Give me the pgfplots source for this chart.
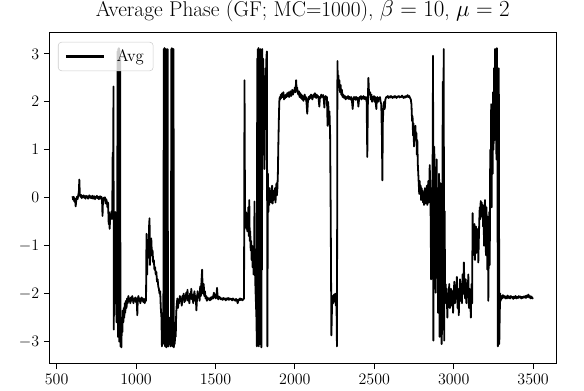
\documentclass[border=0pt]{standalone}
\usepackage{pgfplots}
\pgfplotsset{compat=1.18}

\newcommand{\tickfont}{\fontsize{12.5}{14}\selectfont}

\begin{document}
\begin{tikzpicture}
\useasboundingbox (-37.1pt,-20.6pt) rectangle (400.9pt,272.6pt);
\begin{axis}[
  at={(0pt,0pt)}, anchor=south west,
  scale only axis,
  width=380pt, height=248.6pt,
  xmin=455, xmax=3645,
  ymin=-3.456, ymax=3.456,
  xtick={500,1000,...,3500},
  ytick={-3,-2,-1,0,1,2,3},
  scaled ticks=false,
  xticklabel style={/pgf/number format/1000 sep={}},
  tick align=outside,
  tick pos=left,
  major tick length=4.2pt,
  tick style={black, line width=0.6pt},
  axis line style={line width=0.6pt},
  ticklabel style={font=\tickfont},
  title={Average Phase (GF; MC=1000), $\beta=10$, $\mu=2$},
  title style={at={(0.5,1)}, anchor=base, yshift=5.3pt, font=\fontsize{16}{19}\selectfont},
  legend style={
    at={(0.0168,0.970)}, anchor=north west,
    draw=black!20, rounded corners=2.5pt,
    fill=white, fill opacity=0.8, text opacity=1,
    font=\tickfont, inner xsep=5pt, inner ysep=3.5pt
  },
  % longer sample line, with extra room before the text
  legend image code/.code={
    \draw[#1, line width=1.6pt] (0pt,0pt) -- (28.5pt,0pt);
    \path[draw=none, fill=none] (0pt,0pt) -- (36pt,0pt);
  },
]
\addplot[black, line width=1.35pt, line join=round, mark=none] coordinates {
(600,0.03)(604,-0.04)(608,0.02)(612,-0.08)(616,-0.02)(620,-0.18)(624,-0.05)(628,0.02)(632,-0.03)(636,0.05)
(640,0.12)(643,0.38)(646,0.08)(650,0.02)(654,0.06)(658,-0.01)(662,0.04)(666,0.01)(670,0.05)(674,0.0)
(678,0.03)(682,-0.02)(686,0.04)(690,0.01)(694,0.03)(698,-0.02)(702,0.02)(706,0.05)(710,0.0)(714,0.03)
(718,-0.01)(722,0.02)(726,0.04)(730,-0.02)(734,0.01)(738,0.03)(742,-0.03)(746,0.02)(750,0.0)(754,0.04)
(758,-0.01)(762,0.02)(766,-0.03)(770,0.01)(774,0.03)(778,-0.02)(782,0.02)(786,-0.05)(789,-0.38)(792,-0.06)
(796,0.0)(800,-0.04)(804,0.01)(808,-0.12)(812,-0.03)(816,-0.08)(820,-0.2)(824,-0.1)(828,-0.55)(831,-0.3)
(834,-0.65)(838,-0.35)(842,-0.45)(846,-0.28)(850,-0.4)(853,0.94)(855,-0.45)(858,2.32)(860,-2.75)(863,-0.4)
(866,-0.55)(869,-0.3)(872,-0.8)(875,-2.3)(878,-2.6)(881,-1.5)(884,3.05)(886,-2.9)(888,3.1)(890,2.2)
(892,3.12)(894,-3.0)(896,3.08)(898,-2.5)(900,2.9)(902,-3.1)(905,-2.7)(908,-3.12)(911,-2.5)(914,-2.8)
(917,-2.35)(920,-2.6)(923,-2.3)(926,-2.5)(929,-2.2)(932,-2.4)(936,-2.15)(940,-2.3)(944,-2.1)(948,-2.2)
(952,-2.05)(956,-2.15)(960,-2.1)(964,-2.2)(968,-2.08)(972,-2.15)(976,-2.05)(980,-2.12)(984,-2.2)(988,-2.1)
(992,-2.15)(996,-2.08)(1000,-2.18)(1004,-2.1)(1008,-2.45)(1011,-2.12)(1015,-2.05)(1019,-2.15)(1023,-2.1)(1027,-2.2)
(1031,-2.12)(1035,-2.08)(1039,-2.15)(1043,-2.1)(1047,-2.18)(1051,-2.12)(1055,-2.2)(1059,-2.1)(1063,-2.15)(1066,-0.75)
(1070,-1.6)(1074,-1.0)(1078,-1.25)(1082,-0.6)(1085,-0.43)(1088,-1.4)(1092,-0.9)(1096,-0.85)(1100,-1.2)(1104,-1.1)
(1108,-1.35)(1112,-1.3)(1116,-1.5)(1120,-1.45)(1124,-1.6)(1128,-1.55)(1132,-1.75)(1136,-1.7)(1140,-1.85)(1144,-1.9)
(1148,-2.0)(1152,-1.95)(1156,-2.3)(1160,-2.5)(1163,-3.1)(1166,-2.8)(1169,-3.05)(1172,-2.6)
(1175,3.1)(1177,-3.0)(1179,3.12)(1181,2.8)(1183,-3.1)(1185,3.05)(1187,-2.7)(1189,3.1)(1191,-3.12)(1193,-2.8)
(1195,3.08)(1197,-3.0)(1199,3.1)(1201,-2.6)(1203,-3.1)(1206,-2.7)(1209,-3.05)(1212,-2.5)(1215,-2.9)(1218,-3.1)
(1220,-2.6)(1222,3.1)(1224,-3.05)(1226,3.12)(1228,2.9)(1230,-3.1)(1232,3.08)(1234,-2.9)(1236,3.1)(1238,-3.12)
(1241,-2.7)(1244,-3.05)(1247,-2.6)(1250,-2.9)(1253,-2.4)(1256,-2.25)
(1260,-2.1)(1264,-2.3)(1268,-2.15)(1272,-2.2)(1276,-2.05)(1280,-2.15)(1284,-2.1)(1288,-2.25)(1292,-2.05)(1296,-2.12)
(1300,-2.0)(1304,-2.18)(1308,-2.05)(1312,-2.15)(1316,-1.98)(1320,-2.1)(1324,-1.92)(1328,-2.15)(1332,-2.05)(1336,-2.2)
(1340,-2.0)(1344,-2.1)(1348,-1.9)(1352,-2.12)(1356,-2.02)(1360,-2.2)(1364,-2.05)(1368,-1.95)(1372,-2.15)(1376,-2.05)
(1380,-2.35)(1384,-2.1)(1388,-1.95)(1392,-2.08)(1396,-2.0)(1400,-2.15)(1404,-1.85)(1408,-2.05)(1412,-1.75)(1416,-1.5)
(1419,-1.85)(1422,-2.0)(1426,-1.8)(1430,-2.05)(1434,-1.95)(1438,-2.1)(1442,-2.05)(1446,-2.15)(1450,-2.08)(1455,-2.12)
(1460,-2.1)(1465,-2.14)(1470,-2.08)(1475,-2.12)(1480,-2.06)(1485,-2.1)(1490,-1.98)(1494,-2.08)(1498,-2.02)(1502,-2.1)
(1506,-2.05)(1510,-1.88)(1514,-2.08)(1518,-2.12)(1522,-2.06)(1526,-2.1)(1530,-2.08)(1535,-2.12)(1540,-2.1)(1545,-2.13)
(1550,-2.09)(1555,-2.12)(1560,-2.1)(1565,-2.14)(1570,-2.1)(1575,-2.12)(1580,-2.09)(1585,-2.13)(1590,-2.1)(1595,-2.12)
(1600,-2.11)(1605,-2.14)(1610,-2.1)(1615,-2.13)(1620,-2.12)(1625,-2.15)(1630,-2.11)(1635,-2.14)(1640,-2.2)(1645,-2.12)
(1650,-2.14)(1655,-2.1)(1660,-2.13)(1665,-2.11)(1670,-2.14)(1675,-2.12)(1680,-2.1)
(1683,2.45)(1686,-0.2)(1689,-0.5)(1692,-0.3)(1695,-0.65)(1698,-0.4)(1701,-0.7)(1704,-0.5)(1707,-0.2)(1710,-0.8)
(1713,-0.05)(1716,-0.9)(1719,-0.7)(1722,-1.1)(1725,-0.9)(1728,-1.3)(1731,-1.0)(1734,-1.45)(1737,-1.2)(1740,-1.6)
(1743,-1.3)(1746,-0.08)(1749,-1.5)(1752,-1.9)(1755,-2.2)(1758,-2.5)(1761,-3.1)(1763,2.9)(1765,-3.0)(1767,3.1)
(1769,-2.8)(1771,3.12)(1773,-3.1)(1775,2.5)(1777,-2.9)(1779,3.05)(1781,-3.05)(1783,3.1)(1785,-2.6)(1787,2.8)
(1789,-3.12)(1791,3.0)(1793,-1.5)(1795,3.1)(1797,1.2)(1800,2.9)(1803,0.9)(1806,2.5)(1809,0.6)(1812,1.8)
(1815,2.7)(1818,2.2)(1821,2.95)(1824,3.05)(1827,-3.1)(1830,0.5)(1833,-0.3)(1836,0.1)(1839,-0.15)(1842,0.2)
(1845,-0.05)(1848,0.12)(1851,-0.1)(1854,0.05)(1857,0.25)(1860,-0.12)(1863,0.08)(1866,-0.05)(1869,0.15)(1872,0.0)
(1875,0.2)(1878,-0.1)(1881,0.1)(1884,0.3)(1887,0.05)(1890,0.2)(1893,0.5)(1896,1.1)(1899,1.6)(1902,2.0)
(1905,2.1)(1908,2.05)(1912,2.15)(1916,2.08)(1920,2.18)(1924,2.1)(1928,2.2)(1932,2.05)(1936,2.12)(1940,2.08)
(1944,2.15)(1948,2.1)(1952,2.18)(1956,2.12)(1960,2.2)(1964,2.1)(1968,2.15)(1972,2.22)(1976,2.12)(1980,2.18)
(1984,2.25)(1988,2.15)(1992,2.22)(1996,2.2)(2000,2.3)(2004,2.2)(2008,2.45)(2011,2.25)(2014,2.3)(2018,2.2)
(2022,2.15)(2026,2.22)(2030,2.1)(2034,2.18)(2038,2.08)(2042,2.15)(2046,2.05)(2050,2.12)(2054,2.02)(2058,2.1)
(2062,2.15)(2066,2.05)(2070,2.1)(2074,1.95)(2078,1.75)(2082,2.0)(2086,2.1)(2090,2.05)(2094,2.12)(2098,2.08)
(2102,2.15)(2106,2.12)(2110,2.05)(2114,2.1)(2118,2.15)(2122,2.1)(2126,2.18)(2130,2.12)(2134,2.08)(2138,2.15)
(2142,2.1)(2146,2.12)(2150,2.05)(2154,1.9)(2158,2.1)(2162,2.08)(2166,2.15)(2170,2.12)(2174,2.1)(2178,2.14)
(2182,2.05)(2186,1.88)(2190,2.1)(2194,2.12)(2198,2.05)(2202,2.1)(2206,1.5)(2209,2.0)(2212,1.85)(2215,1.55)
(2218,1.8)(2222,1.3)(2226,-0.5)(2230,-2.87)(2234,-2.25)(2238,-2.05)(2242,-2.2)(2246,-2.02)(2250,-2.15)(2254,-2.0)
(2258,-2.25)(2262,-2.1)(2265,-3.1)(2268,2.85)(2271,2.3)(2274,2.55)(2277,2.3)(2280,2.45)(2284,2.2)(2288,2.35)
(2292,2.15)(2296,2.25)(2300,2.1)(2305,2.15)(2310,2.08)(2315,2.12)(2320,2.05)(2325,2.1)(2330,2.07)(2335,2.12)
(2340,2.06)(2345,2.1)(2350,2.05)(2355,2.1)(2360,2.0)(2364,1.85)(2368,2.05)(2372,2.1)(2376,2.06)(2380,2.1)
(2384,2.04)(2388,2.1)(2392,2.05)(2396,2.08)(2400,1.9)(2404,2.05)(2408,2.1)(2412,2.07)(2416,2.12)(2420,2.05)
(2424,2.1)(2428,2.08)(2432,2.12)(2436,2.06)(2440,2.1)(2444,2.05)(2448,2.1)(2452,2.0)(2456,0.85)(2460,2.1)
(2463,2.5)(2466,2.25)(2470,2.15)(2474,2.2)(2478,2.05)(2482,2.15)(2486,2.0)(2490,2.1)(2494,2.05)(2498,2.12)
(2502,2.0)(2506,2.1)(2510,1.95)(2513,1.85)(2516,2.05)(2520,2.1)(2524,2.0)(2528,2.08)(2532,2.05)(2536,2.1)
(2540,2.0)(2544,1.95)(2548,1.3)(2551,0.36)(2554,1.6)(2558,1.9)(2562,2.0)(2566,1.85)(2570,2.05)(2575,2.1)
(2580,2.1)(2585,2.12)(2590,2.08)(2595,2.11)(2600,2.09)(2605,2.12)(2610,2.1)(2615,2.08)(2620,2.11)(2625,2.09)
(2630,2.12)(2635,2.1)(2640,2.08)(2645,2.11)(2650,2.1)(2655,2.12)(2660,2.09)(2665,2.11)(2670,2.1)(2675,2.13)
(2680,2.1)(2685,2.08)(2690,2.11)(2695,2.09)(2700,2.12)(2705,2.1)(2710,2.14)(2715,2.1)(2720,2.12)(2725,2.08)
(2730,2.05)(2734,1.95)(2738,1.6)(2741,1.7)(2744,1.3)(2747,1.55)(2750,1.07)(2753,1.45)(2756,1.25)(2759,1.5)
(2762,1.2)(2765,1.35)(2768,0.9)(2771,1.2)(2774,0.7)(2777,0.5)(2780,0.3)(2783,0.08)(2786,0.35)(2789,0.1)
(2792,0.25)(2795,-0.05)(2798,0.2)(2801,0.0)(2804,0.15)(2807,-0.1)(2810,0.1)(2813,-0.15)(2816,0.05)(2819,0.2)
(2822,-0.12)(2825,0.1)(2828,-0.05)(2831,0.25)(2834,-0.15)(2837,0.1)(2840,0.35)(2843,-0.1)(2846,0.2)(2849,0.68)
(2852,0.3)(2855,-0.4)(2858,-1.7)(2861,0.2)(2864,-0.3)(2867,0.5)(2870,2.96)(2872,-2.98)(2875,-0.8)(2878,1.06)
(2881,-1.2)(2884,0.4)(2887,-1.98)(2890,-0.6)(2893,0.8)(2896,-1.5)(2899,0.2)(2902,-2.4)(2905,-0.9)(2908,0.5)
(2911,-2.9)(2914,-1.2)(2917,0.3)(2920,-1.0)(2924,-3.05)(2928,-2.5)(2931,2.42)(2934,-1.5)(2937,3.1)(2940,-2.98)
(2943,-0.28)(2946,-2.1)(2949,-1.8)(2952,-2.2)(2956,-1.9)(2960,-2.5)(2964,-2.0)(2968,-2.15)(2972,-1.8)(2976,-2.3)
(2980,-2.05)(2984,-1.9)(2988,-2.25)(2992,-1.95)(2996,-2.4)(3000,-2.0)(3004,-1.75)(3008,-2.2)(3012,-1.85)(3016,-2.1)
(3020,-1.65)(3024,-2.3)(3028,-1.9)(3032,-2.45)(3036,-2.0)(3040,-1.7)(3044,-2.15)(3048,-1.9)(3052,-2.2)(3056,-1.6)
(3060,-2.0)(3064,-1.35)(3068,-1.9)(3072,-2.1)(3076,-1.7)(3080,-2.2)(3084,-1.85)(3088,-2.05)(3092,-1.6)(3096,-2.3)
(3100,-1.9)(3104,-2.1)(3108,-2.5)(3112,-1.8)(3116,-2.2)(3119,-0.32)(3122,-1.2)(3125,-0.6)(3128,-1.0)(3131,-0.55)
(3134,-1.3)(3137,-0.8)(3140,-0.6)(3143,-1.15)(3146,-0.7)(3149,-1.0)(3152,-0.65)(3155,-1.35)(3158,-0.9)(3161,-0.5)
(3164,-0.2)(3167,-0.45)(3170,-0.07)(3173,-0.35)(3176,-0.1)(3179,-0.4)(3182,-0.15)(3185,-0.6)(3188,-0.2)(3191,-1.0)
(3194,-0.3)(3197,-0.05)(3200,-0.5)(3203,-1.2)(3206,-0.2)(3209,-0.6)(3212,-1.5)(3215,-0.4)(3218,-2.15)(3221,-1.0)
(3224,-0.3)(3227,-1.4)(3230,1.0)(3233,0.2)(3236,1.95)(3239,-0.2)(3242,1.6)(3245,0.5)(3248,2.2)(3251,1.0)
(3254,2.7)(3257,1.2)(3260,3.1)(3263,1.6)(3266,3.05)(3269,0.8)(3272,3.12)(3275,2.0)(3278,-3.1)(3281,-2.2)
(3284,2.7)(3287,-3.05)(3290,-2.4)(3293,-2.0)(3296,-2.15)(3300,-2.05)(3305,-2.1)(3310,-2.03)(3315,-2.08)(3320,-2.05)
(3325,-2.1)(3330,-2.06)(3335,-2.1)(3340,-2.04)(3345,-2.09)(3350,-2.06)(3355,-2.1)(3360,-2.05)(3365,-2.08)(3370,-2.07)
(3375,-2.11)(3380,-2.06)(3385,-2.09)(3390,-2.05)(3395,-2.1)(3400,-2.07)(3405,-2.09)(3410,-2.05)(3415,-2.08)(3420,-2.06)
(3425,-2.1)(3430,-2.07)(3435,-2.09)(3440,-2.06)(3445,-2.08)(3450,-2.05)(3455,-2.09)(3460,-2.04)(3465,-2.07)(3470,-2.02)
(3475,-2.08)(3480,-2.05)(3485,-2.1)(3490,-2.06)(3495,-2.1)(3500,-2.08)
};
\addlegendentry{Avg}
\end{axis}
\end{tikzpicture}
\end{document}
